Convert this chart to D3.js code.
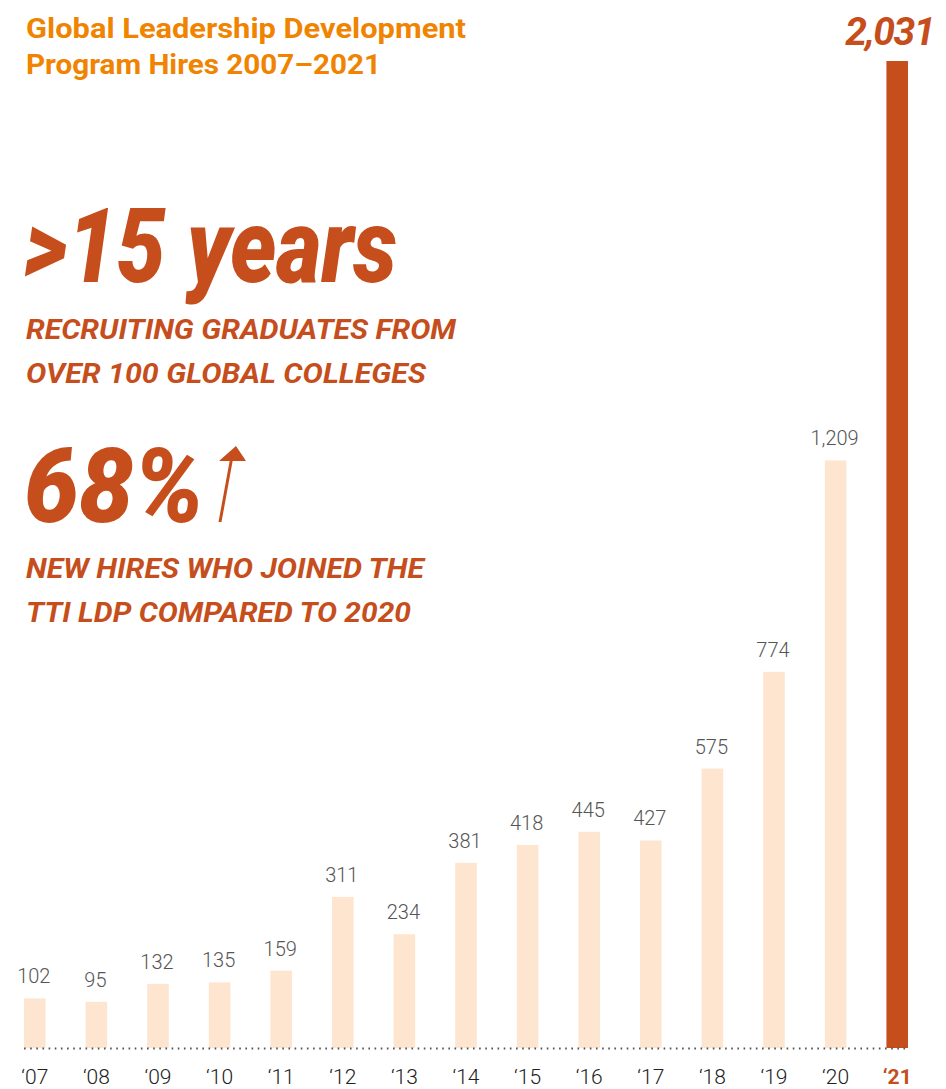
<!DOCTYPE html>
<html>
<head>
<meta charset="utf-8">
<script src="https://cdn.jsdelivr.net/npm/d3@7"></script>
<style>
  html, body { margin: 0; padding: 0; background: #fff; }
  svg { display: block; }
</style>
</head>
<body>
<div id="chart"></div>
<script>
// data
const years = ["‘07", "‘08", "‘09", "‘10", "‘11", "‘12", "‘13", "‘14", "‘15", "‘16", "‘17", "‘18", "‘19", "‘20", "‘21"];
const hires = [102, 95, 132, 135, 159, 311, 234, 381, 418, 445, 427, 575, 774, 1209, 2031];
const titleLines = ["Global Leadership Development", "Program Hires 2007–2021"];

const W = 946, H = 1089;
const ORANGE = "#f08300", RUST = "#c54e1c", PEACH = "#fde5cf";
const base = 1048;

const svg = d3.select("#chart").append("svg").attr("width", W).attr("height", H);

const x = d3.scaleBand().domain(years).range([4, 928]).paddingInner(0.65).paddingOuter(0.325);
const y = d3.scaleLinear().domain([0, d3.max(hires)]).range([base, 61]);

const last = years.length - 1;

// bars
svg.selectAll("rect.bar").data(hires).join("rect")
  .attr("class", "bar")
  .attr("x", (d, i) => x(years[i]))
  .attr("width", x.bandwidth())
  .attr("y", d => y(d))
  .attr("height", d => base - y(d))
  .attr("fill", (d, i) => i === last ? RUST : PEACH);

// dotted baseline
svg.append("line")
  .attr("x1", x(years[0])).attr("x2", x(years[last]) + x.bandwidth())
  .attr("y1", base + 0.5).attr("y2", base + 0.5)
  .attr("stroke", "#555").attr("stroke-width", 2)
  .attr("stroke-dasharray", "1.6,4.55").attr("stroke-linecap", "butt");

// value labels (last one is big)
const fmt = d3.format(",");
svg.selectAll("text.val").data(hires.slice(0, last)).join("text")
  .attr("class", "val")
  .attr("x", (d, i) => x(years[i]) + x.bandwidth() / 2 - 1)
  .attr("y", d => y(d) - 15)
  .attr("text-anchor", "middle")
  .attr("font-family", "Roboto, sans-serif").attr("font-weight", 300)
  .attr("font-size", 20).attr("fill", "#555")
  .text(d => fmt(d));

svg.append("text")
  .attr("x", 934).attr("y", 45)
  .attr("text-anchor", "end")
  .attr("font-family", "Roboto, sans-serif").attr("font-weight", 700).attr("font-style", "italic")
  .attr("font-size", 39).attr("letter-spacing", -1.5).attr("fill", RUST)
  .text(fmt(hires[last]));

// x labels
svg.selectAll("text.yr").data(years).join("text")
  .attr("class", "yr")
  .attr("x", d => x(d) + x.bandwidth() / 2)
  .attr("y", 1084)
  .attr("text-anchor", "middle")
  .attr("font-family", "Roboto, sans-serif")
  .attr("font-weight", (d, i) => i === last ? 700 : 300)
  .attr("font-size", 21)
  .attr("fill", (d, i) => i === last ? RUST : "#222")
  .text(d => d);

// title
const titleLen = [440, 355];
svg.append("g").selectAll("text").data(titleLines).join("text")
  .attr("x", 26).attr("y", (d, i) => 38 + i * 36)
  .attr("font-family", "Roboto, sans-serif").attr("font-weight", 700)
  .attr("font-size", 27).attr("fill", ORANGE)
  .attr("textLength", (d, i) => titleLen[i]).attr("lengthAdjust", "spacingAndGlyphs")
  .text(d => d);

// callouts
function big(txt, yy, len) {
  svg.append("text").attr("x", 24).attr("y", yy)
    .attr("font-family", "Roboto, sans-serif").attr("font-weight", 900).attr("font-style", "italic")
    .attr("font-size", 104).attr("fill", RUST)
    .attr("textLength", len).attr("lengthAdjust", "spacingAndGlyphs")
    .text(txt);
}
function caps(txt, yy, len) {
  svg.append("text").attr("x", 26).attr("y", yy)
    .attr("font-family", "Roboto, sans-serif").attr("font-weight", 700).attr("font-style", "italic")
    .attr("font-size", 27).attr("fill", RUST)
    .attr("textLength", len).attr("lengthAdjust", "spacingAndGlyphs")
    .text(txt);
}
big(">15 years", 282, 373);
caps("RECRUITING GRADUATES FROM", 339, 430);
caps("OVER 100 GLOBAL COLLEGES", 383, 400);
big("68%", 522, 180);
caps("NEW HIRES WHO JOINED THE", 578, 398);
caps("TTI LDP COMPARED TO 2020", 622, 385);

// up arrow after 68%
svg.append("path")
  .attr("d", "M218.5,522 L221.5,522 L233,459 L230,459 Z M219,461 L246,461 L236,446 Z")
  .attr("fill", RUST);
</script>
</body>
</html>
